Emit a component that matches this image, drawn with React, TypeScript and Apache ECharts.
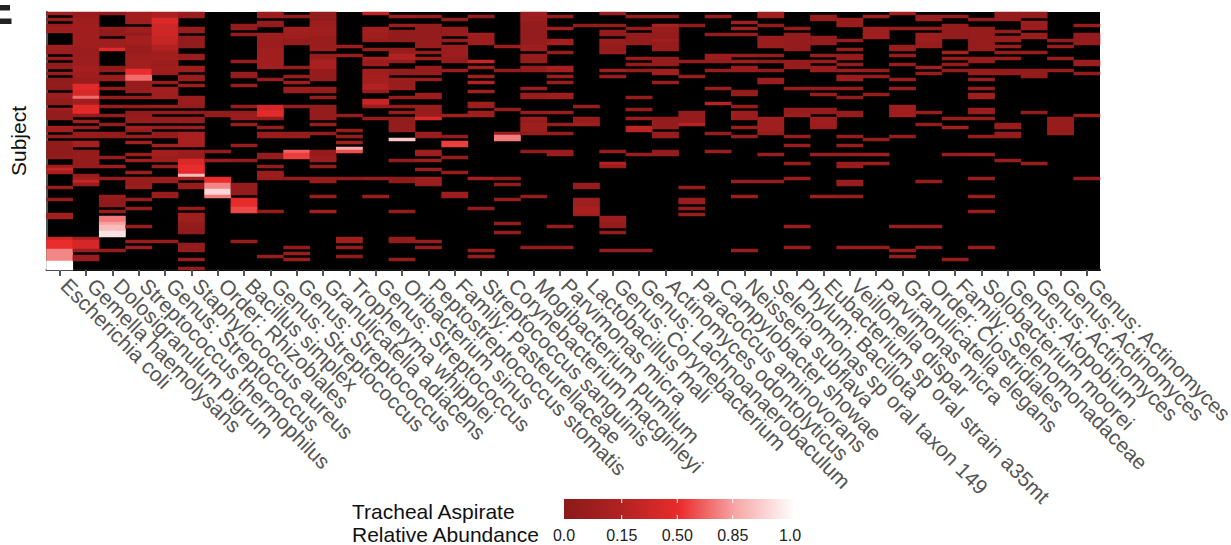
import React, { useEffect, useRef } from "react";
import * as echarts from "echarts";

const taxa = [
  "Escherichia coli", "Gemella haemolysans", "Dolosigranulum pigrum", "Streptococcus thermophilus",
  "Genus: Streptococcus", "Staphylococcus aureus", "Order: Rhizobiales", "Bacillus simplex",
  "Genus: Streptococcus", "Genus: Streptococcus", "Granulicatella adiacens", "Tropheryma whipplei",
  "Genus: Streptococcus", "Oribacterium sinus", "Peptostreptococcus stomatis", "Family: Pasteurellaceae",
  "Streptococcus sanguinis", "Corynebacterium macginleyi", "Mogibacterium pumilum", "Parvimonas micra",
  "Lactobacillus mali", "Genus: Corynebacterium", "Genus: Lachnoanaerobaculum", "Actinomyces odontolyticus",
  "Paracoccus aminovorans", "Campylobacter showae", "Neisseria subflava", "Selenomonas sp oral taxon 149",
  "Phylum: Bacillota", "Eubacterium sp oral strain a35mt", "Veillonella dispar", "Parvimonas micra",
  "Granulicatella elegans", "Order: Clostridiales", "Family: Selenomonadaceae", "Solobacterium moorei",
  "Genus: Atopobium", "Genus: Actinomyces", "Genus: Actinomyces", "Genus: Actinomyces",
];

const subjectCount = 86;

// Each entry: [first subject row, last subject row, relative abundance]
type Run = [number, number, number];
const col00: Run[] = [[0,0,.13],[2,2,.08],[4,4,.07],[5,6,.1],[11,11,.1],[12,13,.09],[15,15,.08],[17,18,.05],[20,20,.08],[22,24,.04],[25,25,.03],[27,28,.09],[29,30,.05],[32,32,.1],[33,35,.04],[38,39,.13],[41,41,.07],[43,45,.02],[46,47,.03],[48,48,.05],[51,51,.1],[52,52,.3],[53,53,.14],[58,58,.08],[62,62,.05],[67,68,.12],[75,75,.35],[76,78,.5],[79,82,.75],[83,85,1]];
const col01: Run[] = [[0,1,.07],[2,3,.1],[4,5,.11],[6,8,.12],[9,11,.1],[12,14,.08],[15,17,.09],[18,19,.13],[20,21,.11],[22,23,.07],[24,25,.45],[26,27,.4],[28,28,.68],[29,30,.12],[31,33,.45],[34,34,.06],[36,36,.1],[38,38,.08],[40,41,.06],[43,44,.14],[46,48,.06],[49,50,.05],[51,51,.05],[54,54,.05],[55,55,.1],[56,56,.3],[57,57,.07],[75,75,.12],[76,78,.38],[79,79,.09],[81,82,.07]];
const col02: Run[] = [[0,0,.03],[5,5,.05],[6,7,.03],[9,11,.11],[12,12,.45],[18,19,.03],[21,22,.06],[25,25,.06],[28,28,.06],[31,31,.05],[34,34,.05],[37,37,.04],[40,41,.05],[48,48,.05],[51,51,.09],[55,55,.06],[61,61,.06],[62,64,.03],[66,66,.07],[68,69,.72],[70,70,.82],[71,72,.88],[73,74,.95],[79,79,.06]];
const col03: Run[] = [[0,2,.12],[3,3,.1],[5,6,.1],[7,7,.05],[8,10,.13],[11,13,.07],[14,15,.1],[16,18,.12],[19,20,.5],[21,22,.68],[23,23,.07],[24,25,.06],[26,26,.07],[28,28,.07],[31,31,.07],[33,34,.03],[35,36,.06],[38,38,.13],[39,39,.06],[41,41,.09],[43,43,.12],[47,47,.08],[49,49,.12],[53,53,.1],[55,57,.06],[58,58,.09],[62,62,.06],[65,65,.07],[71,71,.07],[76,76,.07],[78,78,.09]];
const col04: Run[] = [[0,1,.16],[2,3,.42],[4,7,.35],[8,10,.3],[11,12,.2],[13,15,.12],[16,17,.08],[18,19,.1],[20,20,.07],[23,23,.07],[25,26,.12],[27,28,.1],[31,31,.08],[33,33,.06],[35,36,.05],[38,38,.08],[40,41,.05],[44,44,.13],[46,47,.12],[48,49,.08],[51,51,.05],[55,56,.08],[60,61,.07],[76,76,.07]];
const col05: Run[] = [[0,1,.07],[5,6,.07],[8,9,.05],[10,11,.04],[14,15,.07],[18,19,.1],[21,22,.07],[24,24,.09],[28,30,.07],[31,31,.05],[33,33,.05],[35,36,.06],[38,38,.09],[40,43,.15],[44,44,.15],[46,46,.09],[47,48,.07],[49,50,.42],[51,52,.5],[53,53,.45],[54,54,.88],[55,55,.1],[57,58,.06],[65,65,.06],[67,69,.1],[70,71,.05],[72,73,.03],[77,79,.04],[82,82,.07],[85,85,.04]];
const col06: Run[] = [[33,34,.04],[46,46,.04],[49,49,.08],[55,56,.5],[57,58,.75],[59,60,.93],[61,61,.72]];
const col07: Run[] = [[4,4,.05],[5,5,.06],[7,7,.06],[16,16,.07],[20,21,.05],[24,24,.07],[31,31,.06],[33,33,.05],[34,35,.08],[37,37,.07],[44,44,.07],[49,49,.05],[57,59,.05],[60,60,.05],[62,64,.48],[65,66,.58],[76,76,.06]];
const col08: Run[] = [[0,1,.08],[3,4,.05],[7,8,.09],[9,11,.08],[12,18,.12],[22,22,.07],[31,32,.38],[33,34,.47],[35,35,.05],[38,38,.07],[40,41,.07],[47,48,.05],[51,51,.05],[53,54,.08],[55,55,.06],[66,66,.06],[81,81,.06]];
const col09: Run[] = [[1,1,.05],[5,6,.12],[7,8,.1],[9,9,.05],[10,10,.04],[18,18,.05],[21,21,.07],[23,23,.1],[25,26,.08],[31,31,.06],[40,41,.06],[46,46,.65],[47,48,.55],[55,55,.06],[78,78,.05],[80,80,.07],[82,82,.07]];
const col10: Run[] = [[0,2,.04],[3,4,.09],[5,7,.1],[8,10,.07],[11,12,.08],[14,15,.06],[16,18,.16],[19,20,.06],[21,22,.05],[25,26,.06],[28,28,.06],[31,32,.05],[33,35,.05],[37,37,.07],[40,40,.06],[46,47,.05],[48,49,.08],[51,51,.06],[55,56,.06],[61,61,.07],[66,66,.12]];
const col11: Run[] = [[11,11,.08],[14,14,.07],[34,34,.05],[39,39,.06],[41,41,.05],[43,43,.1],[45,45,.85],[46,46,.6],[55,55,.02],[75,76,.1],[78,78,.05],[81,81,.05]];
const col12: Run[] = [[0,0,.25],[5,6,.12],[7,8,.1],[9,9,.07],[12,12,.07],[15,15,.15],[16,17,.08],[19,20,.1],[21,23,.13],[24,25,.2],[26,26,.07],[29,30,.3],[31,31,.07],[35,35,.06],[55,55,.06],[61,61,.07]];
const col13: Run[] = [[1,1,.08],[4,4,.08],[6,9,.04],[12,13,.06],[14,15,.2],[16,16,.06],[19,19,.06],[20,20,.05],[22,24,.07],[25,25,.08],[28,28,.07],[31,31,.07],[33,33,.06],[35,37,.04],[38,39,.05],[42,42,.9],[49,49,.04],[55,56,.03],[66,66,.05],[75,76,.05],[82,82,.05]];
const col14: Run[] = [[1,1,.04],[4,6,.05],[7,8,.05],[9,11,.06],[13,13,.07],[15,15,.09],[18,20,.06],[22,22,.07],[27,28,.08],[31,33,.06],[34,34,.08],[35,35,.42],[40,41,.07],[46,47,.1],[49,49,.1],[52,52,.07],[55,56,.09],[57,57,.07],[76,76,.07],[78,78,.06]];
const col15: Run[] = [[2,2,.05],[5,7,.06],[9,9,.06],[11,13,.08],[14,14,.09],[15,16,.05],[19,19,.07],[34,34,.12],[41,41,.05],[43,44,.55],[48,48,.06],[53,53,.06],[60,61,.09]];
const col16: Run[] = [[1,1,.05],[7,7,.1],[8,10,.09],[16,16,.3],[18,18,.1],[21,21,.1],[23,23,.2],[26,26,.12],[30,31,.1],[33,34,.1],[55,55,.13],[65,65,.05],[79,79,.06],[81,81,.06]];
const col17: Run[] = [[11,11,.08],[19,19,.05],[32,32,.04],[40,40,.05],[41,42,.72],[55,55,.05],[57,57,.05],[62,62,.06],[70,70,.06],[73,73,.06]];
const col18: Run[] = [[0,2,.09],[3,4,.05],[5,7,.04],[8,10,.05],[11,12,.09],[14,16,.06],[18,19,.05],[25,25,.07],[27,28,.07],[33,33,.06],[35,35,.09],[36,36,.05],[37,37,.1],[38,39,.09],[40,40,.05],[46,46,.05],[61,61,.05],[78,78,.05]];
const col19: Run[] = [[1,1,.05],[5,5,.1],[9,10,.12],[13,13,.06],[18,19,.14],[21,21,.08],[23,23,.07],[27,28,.09],[33,33,.07],[37,37,.07],[40,40,.06],[46,47,.07],[71,71,.06],[78,78,.05]];
const col20: Run[] = [[4,4,.04],[31,31,.07],[35,36,.06],[37,37,.1],[57,58,.05],[62,64,.1],[65,66,.16],[67,67,.1]];
const col21: Run[] = [[0,0,.09],[4,4,.04],[6,7,.05],[9,10,.08],[11,12,.05],[13,13,.07],[19,19,.1],[21,21,.07],[46,46,.07],[50,50,.2],[51,51,.08],[68,69,.09],[70,71,.05],[73,73,.06],[79,79,.05]];
const col22: Run[] = [[1,1,.05],[5,5,.06],[7,9,.04],[10,10,.06],[15,15,.07],[17,17,.05],[19,19,.06],[28,28,.06],[32,32,.06],[35,35,.08],[38,39,.25],[47,47,.07],[79,79,.05]];
const col23: Run[] = [[1,1,.05],[4,4,.16],[5,6,.07],[7,8,.05],[9,9,.1],[10,12,.06],[15,17,.05],[19,20,.12],[23,23,.07],[35,37,.05],[38,38,.06],[40,41,.06],[46,47,.05]];
const col24: Run[] = [[4,4,.05],[16,16,.06],[21,21,.08],[33,36,.05],[37,37,.22],[58,58,.06],[62,63,.07],[65,65,.06],[67,67,.07]];
const col25: Run[] = [[1,1,.07],[7,7,.05],[14,15,.08],[16,16,.06],[19,19,.07],[25,25,.07],[30,30,.22],[40,40,.06],[46,46,.08]];
const col26: Run[] = [[3,3,.12],[5,5,.1],[7,7,.06],[14,14,.07],[16,16,.1],[18,18,.08],[19,19,.07],[26,27,.05],[31,31,.06],[33,34,.09],[35,35,.07],[38,38,.08],[41,41,.06],[56,56,.07],[61,61,.09],[79,79,.07]];
const col27: Run[] = [[0,1,.1],[4,4,.05],[8,11,.07],[14,14,.05],[16,16,.05],[19,19,.05],[22,23,.08],[35,36,.1],[37,37,.1],[38,39,.1],[40,40,.06],[47,47,.07],[56,56,.06]];
const col28: Run[] = [[5,5,.05],[7,7,.05],[8,12,.05],[16,18,.06],[25,25,.06],[32,33,.05],[34,34,.09],[41,41,.06],[44,44,.07],[50,50,.06],[55,55,.07],[71,71,.07],[78,78,.07]];
const col29: Run[] = [[1,2,.05],[8,10,.05],[14,14,.06],[16,16,.07],[18,19,.08],[25,25,.06],[27,27,.06],[32,33,.05],[35,37,.09],[38,38,.07],[47,47,.07],[61,61,.09]];
const col30: Run[] = [[2,4,.07],[9,9,.05],[12,12,.06],[14,15,.05],[17,17,.06],[19,19,.08],[21,22,.08],[25,25,.06],[28,28,.05],[33,34,.05],[41,41,.06],[44,44,.07],[47,47,.07],[50,50,.07],[51,51,.07],[56,57,.07],[61,61,.07],[78,78,.07]];
const col31: Run[] = [[1,1,.1],[5,6,.09],[7,8,.1],[19,19,.06],[21,21,.06],[27,27,.06],[42,42,.05],[47,47,.09],[50,50,.09],[78,78,.07]];
const col32: Run[] = [[0,0,.1],[5,5,.06],[11,11,.06],[12,12,.07],[14,14,.06],[17,17,.06],[22,22,.08],[25,25,.07],[31,32,.1],[33,34,.11],[41,41,.06],[71,71,.07],[79,79,.07],[81,81,.06]];
const col33: Run[] = [[1,2,.07],[5,5,.07],[7,9,.09],[10,11,.06],[18,18,.12],[20,20,.06],[33,33,.06],[37,37,.05],[56,56,.07],[71,71,.07],[78,78,.07]];
const col34: Run[] = [[1,1,.06],[4,4,.06],[5,6,.05],[7,8,.05],[13,13,.14],[15,15,.06],[17,17,.06],[19,19,.05],[35,35,.07],[38,38,.12],[47,47,.07],[82,82,.06]];
const col35: Run[] = [[2,2,.05],[5,6,.06],[7,7,.05],[8,12,.06],[15,16,.05],[19,20,.06],[22,22,.07],[25,25,.07],[27,28,.1],[32,33,.07],[35,35,.07],[41,41,.06],[47,47,.1],[55,55,.08],[61,61,.08],[66,66,.08],[78,78,.07]];
const col36: Run[] = [[0,2,.05],[6,6,.06],[8,9,.06],[11,11,.07],[13,13,.06],[15,15,.07],[19,20,.05],[37,37,.07],[38,38,.07],[40,41,.05],[49,49,.06]];
const col37: Run[] = [[0,1,.05],[3,5,.08],[7,8,.07],[13,13,.07],[19,21,.05],[33,33,.05],[50,50,.07]];
const col38: Run[] = [[9,9,.05],[11,11,.07],[15,15,.08],[19,19,.06],[35,37,.06],[38,40,.06]];
const col39: Run[] = [[4,4,.06],[7,10,.05],[16,17,.08],[20,20,.05],[34,34,.07],[55,55,.06]];

const abundanceColumns = [
  col00, col01, col02, col03, col04, col05, col06, col07, col08, col09,
  col10, col11, col12, col13, col14, col15, col16, col17, col18, col19,
  col20, col21, col22, col23, col24, col25, col26, col27, col28, col29,
  col30, col31, col32, col33, col34, col35, col36, col37, col38, col39,
];

const legendBreaks = [0, 0.2, 0.5, 0.85, 1];
const legendLabels = ["0.0", "0.15", "0.50", "0.85", "1.0"];
const scaleColors = ["#8b1a1a", "#b22222", "#ea2c2c", "#f7aaaa", "#ffffff"];

// The colour bar spaces its breaks evenly: position on the bar for an abundance.
function barPosition(a: number): number {
  for (let i = 1; i < legendBreaks.length; i++) {
    if (a <= legendBreaks[i]) {
      const lo = legendBreaks[i - 1];
      const hi = legendBreaks[i];
      return (i - 1 + (a - lo) / (hi - lo)) / (legendBreaks.length - 1);
    }
  }
  return 1;
}

export default function App() {
  const ref = useRef<HTMLDivElement>(null);

  useEffect(() => {
    document.body.style.margin = "0";
    const chart = echarts.init(ref.current!, undefined, { renderer: "svg" });

    const subjects = Array.from({ length: subjectCount }, (_, i) => String(i));
    const cells: [number, number, number][] = [];
    abundanceColumns.forEach((runs, c) => {
      runs.forEach(([first, last, a]) => {
        for (let r = first; r <= last; r++) cells.push([c, r, barPosition(a)]);
      });
    });

    const barLeft = 564;
    const barRight = 795;
    const tickX = [564, 621.7, 677.3, 732.7, 790];
    const labelFont = "Liberation Sans";

    chart.setOption({
      animation: false,
      backgroundColor: "#ffffff",
      grid: {
        left: 46.5,
        top: 12,
        width: 1053.5,
        height: 258,
        show: true,
        backgroundColor: "#000000",
        borderWidth: 0,
        outerBoundsMode: "none",
      },
      xAxis: {
        type: "category",
        data: taxa,
        boundaryGap: true,
        axisLine: { show: true, lineStyle: { color: "#111111", width: 2 } },
        axisTick: { show: true, alignWithLabel: true, length: 6, lineStyle: { color: "#555555", width: 2 } },
        axisLabel: {
          interval: 0,
          rotate: -45,
          margin: 7,
          padding: [0, 0, 0, 7],
          color: "#555555",
          fontFamily: labelFont,
          fontSize: 21,
          hideOverlap: false,
        },
        splitLine: { show: false },
      },
      yAxis: {
        type: "category",
        data: subjects,
        inverse: true,
        name: "Subject",
        nameLocation: "middle",
        nameGap: 18,
        nameRotate: 90,
        nameTextStyle: { color: "#111111", fontFamily: labelFont, fontSize: 21 },
        axisLine: { show: true, lineStyle: { color: "#555555", width: 2 } },
        axisTick: { show: false },
        axisLabel: { show: false },
        splitLine: { show: false },
      },
      visualMap: {
        show: false,
        min: 0,
        max: 1,
        dimension: 2,
        inRange: { color: scaleColors },
      },
      series: [
        {
          type: "heatmap",
          data: cells,
          itemStyle: { borderWidth: 0 },
          emphasis: { disabled: true },
        },
      ],
      graphic: [
        { type: "rect", shape: { x: 0, y: 5, width: 10, height: 5.5 }, style: { fill: "#222222" } },
        { type: "rect", shape: { x: 0, y: 18.5, width: 11.5, height: 5.5 }, style: { fill: "#222222" } },
        {
          type: "text", x: 352, y: 511,
          style: { text: "Tracheal Aspirate", fill: "#111111", font: `21px ${labelFont}`, textVerticalAlign: "middle" },
        },
        {
          type: "text", x: 352, y: 534.5,
          style: { text: "Relative Abundance", fill: "#111111", font: `21px ${labelFont}`, textVerticalAlign: "middle" },
        },
        {
          type: "rect",
          shape: { x: barLeft, y: 499, width: barRight - barLeft, height: 20 },
          style: {
            fill: new echarts.graphic.LinearGradient(0, 0, 1, 0,
              scaleColors.map((color, i) => ({ offset: i / (scaleColors.length - 1), color }))),
          },
        },
        ...tickX.slice(1, 4).flatMap((x) => [
          { type: "line", shape: { x1: x, y1: 499, x2: x, y2: 503 }, style: { stroke: "#ffffff", lineWidth: 1 } },
          { type: "line", shape: { x1: x, y1: 515, x2: x, y2: 519 }, style: { stroke: "#ffffff", lineWidth: 1 } },
        ]),
        ...legendLabels.map((text, i) => ({
          type: "text", x: tickX[i], y: 535,
          style: { text, fill: "#222222", font: `16px ${labelFont}`, textAlign: "center", textVerticalAlign: "middle" },
        })),
      ],
    });

    return () => chart.dispose();
  }, []);

  return <div ref={ref} style={{ position: "absolute", left: 0, top: 0, width: 1231, height: 545 }} />;
}
